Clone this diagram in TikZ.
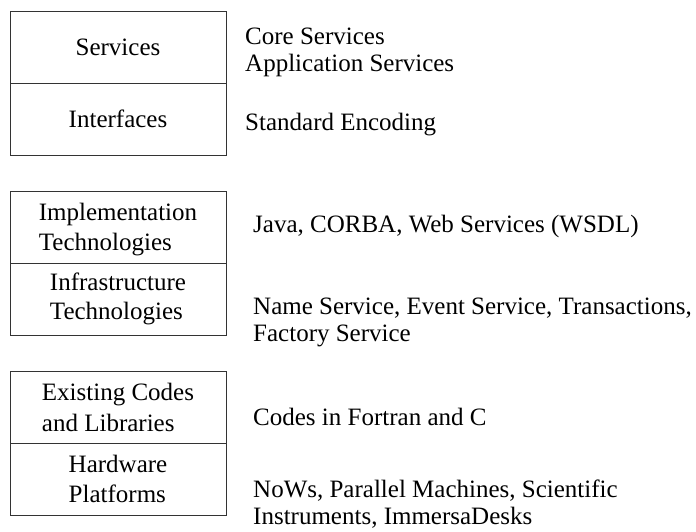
\documentclass[tikz,border=0pt]{standalone}
\usepackage{fontspec}
\setmainfont{Liberation Serif}
\usepackage{tikz}

\begin{document}
\begin{tikzpicture}[x=1pt,y=-1pt,
    font=\fontsize{25}{27}\selectfont,
    cell/.style={draw=black!80, line width=0.9pt, minimum width=216pt, minimum height=72pt, align=left, inner sep=0pt},
    note/.style={anchor=base west, align=left, inner sep=0pt}]
    \useasboundingbox (0,0) rectangle (696,532);
    % top block
    \node[cell] (services) at (118,47) {Services};
    \node[cell] (interfaces) at (118,119) {Interfaces};
    \node[note] (servnote) at (245,72) {Core Services\\Application Services};
    \node[note] (intfnote) at (245,131) {Standard Encoding};
    % middle block
    \node[cell, text depth=0pt] (impl) at (118,227) {Implementation\\[3pt]Technologies};
    \node[cell] (infra) at (118,299) {Infrastructure\\[2pt]Technologies};
    \node[note] (implnote) at (253,232) {Java, CORBA, Web Services (WSDL)};
    \node[note] (infranote) at (253,341) {Name Service, Event Service, Transactions,\\Factory Service};
    % bottom block
    \node[cell] (codes) at (118,407.5) {Existing Codes\\[4pt]and Libraries};
    \node[cell] (hardware) at (118,479) {Hardware\\[3pt]Platforms};
    \node[note] (codesnote) at (253,425) {Codes in Fortran and C};
    \node[note] (hardnote) at (253,524) {NoWs, Parallel Machines, Scientific\\Instruments, ImmersaDesks};
\end{tikzpicture}
\end{document}
